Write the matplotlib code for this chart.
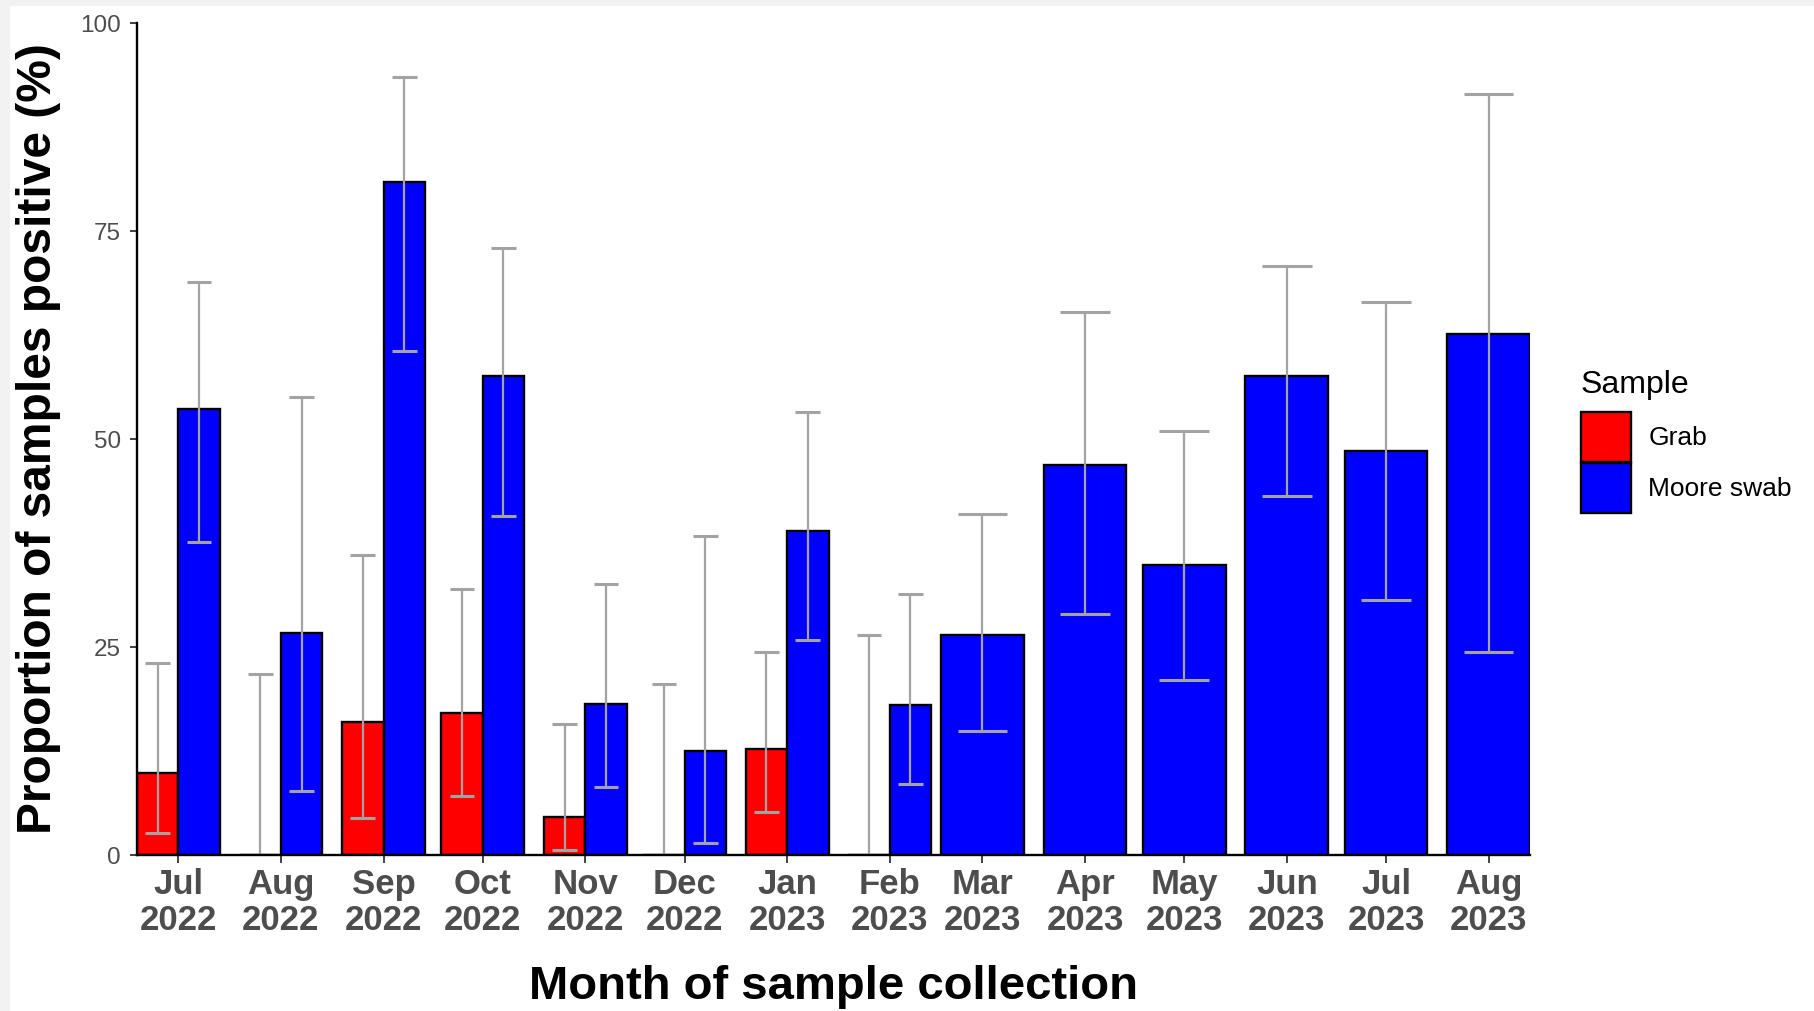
import datetime as dt
import matplotlib
matplotlib.use("Agg")
import matplotlib.pyplot as plt
import matplotlib.dates as mdates
from matplotlib.patches import Patch, Rectangle

plt.rcParams['font.family'] = ['Liberation Sans', 'DejaVu Sans']

# Months of sample collection (first of month)
months = ['2022-07', '2022-08', '2022-09', '2022-10', '2022-11', '2022-12', '2023-01',
          '2023-02', '2023-03', '2023-04', '2023-05', '2023-06', '2023-07', '2023-08']
month_labels = ['Jul\n2022', 'Aug\n2022', 'Sep\n2022', 'Oct\n2022', 'Nov\n2022', 'Dec\n2022',
                'Jan\n2023', 'Feb\n2023', 'Mar\n2023', 'Apr\n2023', 'May\n2023', 'Jun\n2023',
                'Jul\n2023', 'Aug\n2023']

# Grab samples (first 8 months only)
grab_pct = [9.8, 0, 16.0, 17.1, 4.6, 0, 12.8, 0]
grab_lo = [2.7, 0, 4.5, 7.1, 0.6, 0, 5.2, 0]
grab_hi = [23.1, 21.8, 36.0, 32.0, 15.8, 20.5, 24.4, 26.4]

# Moore swab samples
moore_pct = [53.6, 26.7, 80.9, 57.6, 18.2, 12.5, 38.9, 18.0, 26.5, 46.9, 34.9, 57.6, 48.6, 62.6]
moore_lo = [37.6, 7.7, 60.6, 40.8, 8.2, 1.5, 25.9, 8.5, 14.9, 29.0, 21.0, 43.2, 30.7, 24.4]
moore_hi = [68.9, 55.1, 93.5, 73.0, 32.6, 38.3, 53.2, 31.4, 41.0, 65.3, 51.0, 70.8, 66.5, 91.5]

dates = [mdates.date2num(dt.datetime.strptime(m, '%Y-%m')) for m in months]
n_grab = len(grab_pct)

bar_w = 25.0          # days
half = bar_w / 2
err_col = '#A3A3A3'

W, H = 1814, 1011
fig = plt.figure(figsize=(W / 100, H / 100), dpi=100)
fig.patch.set_facecolor('#F2F2F2')
fig.add_artist(Rectangle((10 / W, 0), 1, 1 - 6 / H, transform=fig.transFigure,
                         facecolor='white', edgecolor='none', zorder=-10))

ax = fig.add_axes([137 / W, 156 / H, (1530 - 137) / W, (988 - 156) / H])
ax.set_zorder(1)
ax.set_facecolor('white')

# Grab bars (dodged left)
gx = [d - half / 2 for d in dates[:n_grab]]
ax.bar(gx, grab_pct, width=half, color='#FF0000', edgecolor='black', linewidth=1.7, zorder=2)

# Moore swab bars: dodged right where grab exists, full width otherwise
mx = [d + half / 2 for d in dates[:n_grab]] + dates[n_grab:]
mw = [half] * n_grab + [bar_w] * (len(dates) - n_grab)
ax.bar(mx, moore_pct, width=mw, color='#0000FF', edgecolor='black', linewidth=1.7, zorder=2)

# error bars, cap width proportional to bar width
def draw_err(xs, ws, lo, hi):
    for x, w, l, h in zip(xs, ws, lo, hi):
        cw = w * 0.3
        ax.vlines(x, l, h, color=err_col, linewidth=1.6, zorder=3)
        ax.hlines([l, h], x - cw, x + cw, color=err_col, linewidth=2.2, zorder=3)

draw_err(gx, [half] * n_grab, grab_lo, grab_hi)
draw_err(mx, mw, moore_lo, moore_hi)

ax.set_xlim(dates[0] - half, dates[-1] + half)
ax.set_ylim(0, 100)
ax.set_yticks([0, 25, 50, 75, 100])
ax.set_xticks(dates)
ax.set_xticklabels(month_labels, fontsize=25, fontweight='bold', color='#4D4D4D',
                   linespacing=1.12)
ax.tick_params(axis='y', labelsize=17.5, labelcolor='#4D4D4D', length=5, width=1.3,
               color='#333333', pad=6.5)
ax.tick_params(axis='x', length=5.5, width=1.3, color='#333333', pad=4)

for s in ['top', 'right']:
    ax.spines[s].set_visible(False)
for s in ['left', 'bottom']:
    ax.spines[s].set_linewidth(1.7)
    ax.spines[s].set_zorder(4)

ax.set_xlabel('Month of sample collection', fontsize=34, fontweight='bold', labelpad=20)
ax.set_ylabel('Proportion of samples positive (%)', fontsize=34.5, fontweight='bold', labelpad=14)

# legend: title as separate text, keys below
fig.text(1581 / W, 1 - 393 / H, 'Sample', fontsize=23, ha='left', va='baseline')
handles = [Patch(facecolor='#FF0000', edgecolor='black', linewidth=1.7, label='Grab'),
           Patch(facecolor='#0000FF', edgecolor='black', linewidth=1.7, label='Moore swab')]
fig.legend(handles=handles, loc='upper left', bbox_to_anchor=(1581 / W, 1 - 412 / H),
           frameon=False, fontsize=19, handlelength=1.9, handleheight=2.54,
           labelspacing=0.05, handletextpad=0.65, borderaxespad=0, borderpad=0)

fig.savefig('out.png', dpi=100, facecolor=fig.get_facecolor())
